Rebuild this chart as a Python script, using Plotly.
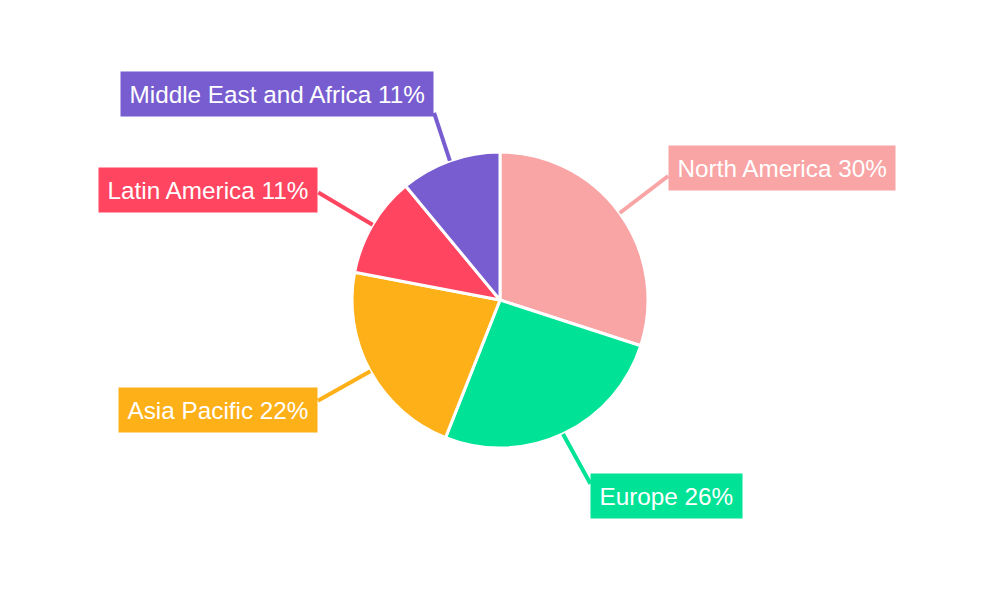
import math
import plotly.graph_objects as go

regions = ["North America", "Europe", "Asia Pacific", "Latin America", "Middle East and Africa"]
shares = [30, 26, 22, 11, 11]
colors = ["#F9A4A5", "#00E396", "#FEB019", "#FF4560", "#775DD0"]

W, H = 1000, 600
PAGE_OFF = 8  # default body margin of the html page
CX, CY, R = 500 - PAGE_OFF, 300 - PAGE_OFF, 148

# label layout tuning (pixels): line end radius, box offset from line end
line_r = [211, 203, 209, 211, 199]
box_dx = [-2.5, 4, 1, 0, 1.5]
box_dy = [-8, 12, 9, -3, -19]

fig = go.Figure()
fig.add_trace(go.Pie(
    labels=regions, values=shares, sort=False, direction="clockwise", rotation=0,
    marker=dict(colors=colors, line=dict(color="white", width=3)),
    textinfo="none", hoverinfo="label+percent", showlegend=False,
    domain=dict(x=[(CX - R) / W, (CX + R) / W], y=[1 - (CY + R) / H, 1 - (CY - R) / H]),
))

total = sum(shares)
cum = 0
for name, v, c, lr, dx, dy in zip(regions, shares, colors, line_r, box_dx, box_dy):
    mid = (cum + v / 2) / total * 2 * math.pi
    cum += v
    s, co = math.sin(mid), math.cos(mid)
    x0, y0 = CX + R * s, CY - R * co
    x1, y1 = CX + lr * s, CY - lr * co
    fig.add_shape(type="line", xref="paper", yref="paper",
                  x0=x0 / W, y0=1 - y0 / H, x1=(x1 + dx) / W, y1=1 - y1 / H,
                  line=dict(color=c, width=4))
    right = s > 0
    fig.add_annotation(
        xref="paper", yref="paper", x=(x1 + dx) / W, y=1 - (y1 + dy) / H,
        xanchor="left" if right else "right", yanchor="middle",
        text=f"{name} {round(v / total * 100)}%", showarrow=False,
        bgcolor=c, borderpad=8.5, font=dict(family="Arial", size=24.3, color="white"),
    )

fig.update_layout(width=W, height=H, margin=dict(l=0, r=0, t=0, b=0),
                  paper_bgcolor="white", plot_bgcolor="white")
fig.write_html("out.html")
